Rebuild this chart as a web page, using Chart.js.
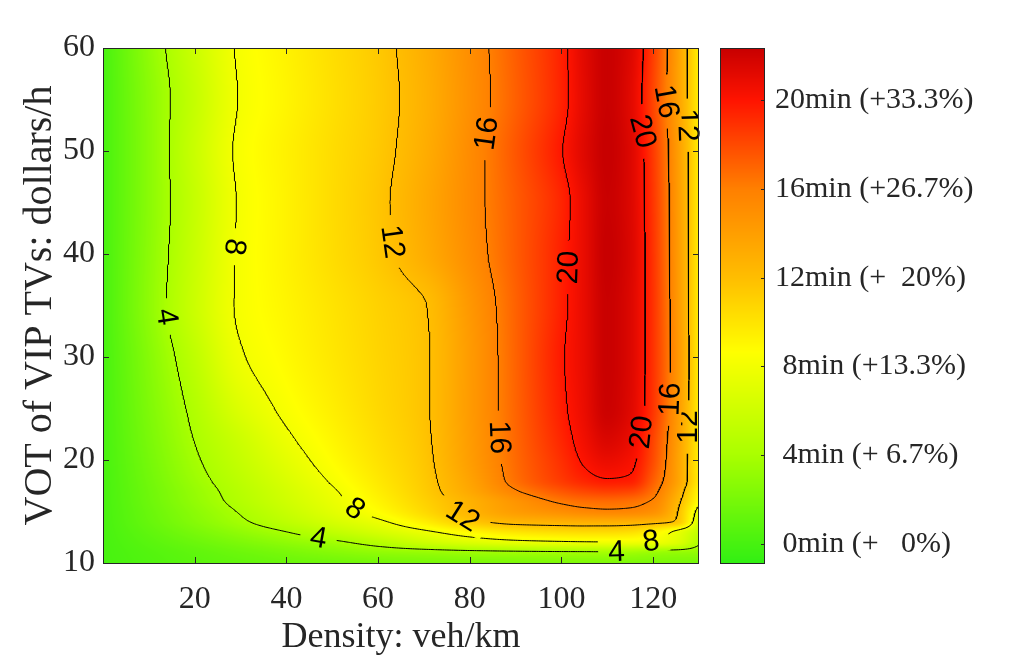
<!DOCTYPE html>
<html>
<head>
<meta charset="utf-8">
<title>VIP delay map</title>
<script src="https://cdn.jsdelivr.net/npm/chart.js@4.4.0/dist/chart.umd.min.js"></script>
<style>
  html, body { margin: 0; padding: 0; background: #fff; }
  #wrap { width: 1035px; height: 668px; }
</style>
</head>
<body>
<div id="wrap"><canvas id="delayChart" width="1035" height="668"></canvas></div>
<script>
'use strict';

/* ── Data ── */
const densityCols = [0, 10, 20, 30, 40, 50, 60, 70, 80, 90, 100, 105, 110, 115, 120, 125, 130];
const votRows = [10, 11, 12, 13, 14, 15, 16, 17, 18, 20, 22, 25, 30, 35, 40, 45, 50, 55, 60];

// extra travel time (min), one row per VOT value, columns follow densityCols
const delayRows = [
  [0, 0.40, 0.80, 1.10, 1.40, 1.60, 1.80, 1.95, 2.05, 2.10, 2.15, 2.15, 2.15, 2.10, 2.05, 2.00, 1.90],
  [0, 0.50, 1.00, 1.50, 2.00, 2.50, 2.95, 3.20, 3.45, 3.60, 3.70, 3.72, 3.75, 3.60, 3.30, 3.10, 3.00],
  [0, 0.73, 1.46, 2.19, 2.91, 3.64, 4.70, 5.90, 6.80, 7.40, 7.70, 7.80, 7.85, 7.85, 7.70, 6.90, 4.30],
  [0, 0.99, 1.99, 2.98, 3.97, 5.18, 6.40, 7.62, 9.00, 10.0, 10.4, 10.5, 10.5, 10.3, 9.30, 7.60, 5.30],
  [0, 1.25, 2.50, 3.74, 5.04, 6.35, 7.66, 9.49, 11.5, 12.6, 12.9, 13.0, 13.0, 12.9, 12.6, 11.8, 6.30],
  [0, 1.37, 2.75, 4.13, 5.60, 7.07, 8.69, 10.57, 12.6, 14.2, 15.1, 15.5, 15.7, 15.6, 15.0, 12.3, 7.20],
  [0, 1.51, 3.03, 4.52, 6.01, 7.49, 9.18, 10.97, 12.81, 14.7, 16.3, 16.7, 16.8, 16.6, 15.8, 12.78, 8.50],
  [0, 1.58, 3.18, 4.73, 6.27, 7.81, 9.52, 11.25, 13.41, 15.88, 17.6, 18.2, 18.5, 18.3, 16.6, 13.47, 9.00],
  [0, 1.69, 3.41, 5.00, 6.59, 8.18, 9.78, 11.39, 13.72, 16.6, 18.6, 19.4, 19.85, 19.7, 17.27, 14.08, 9.60],
  [0, 1.87, 3.76, 5.47, 7.18, 8.73, 10.15, 11.56, 14.09, 16.82, 19.04, 20.2, 20.9, 20.4, 17.97, 14.18, 9.50],
  [0, 2.03, 4.05, 5.88, 7.71, 9.09, 10.38, 11.68, 14.19, 16.93, 19.37, 20.6, 21.6, 20.9, 18.23, 14.40, 9.50],
  [0, 2.23, 4.43, 6.80, 8.35, 9.49, 10.64, 11.78, 14.28, 17.03, 19.68, 20.9, 22.2, 21.4, 18.80, 14.74, 9.60],
  [0, 2.52, 5.12, 7.84, 8.90, 9.87, 10.83, 11.79, 14.26, 17.10, 19.84, 21.0, 22.3, 21.5, 18.90, 14.97, 9.60],
  [0, 2.87, 5.79, 8.23, 9.15, 10.07, 10.99, 11.91, 14.48, 17.13, 19.63, 21.0, 22.3, 21.5, 18.90, 14.81, 9.60],
  [0, 2.76, 5.63, 8.22, 9.31, 10.40, 11.49, 13.09, 15.15, 17.33, 19.59, 21.0, 22.4, 21.6, 18.85, 14.74, 9.60],
  [0, 2.67, 5.47, 8.16, 9.31, 10.46, 11.61, 13.32, 15.33, 17.36, 19.41, 21.0, 22.3, 21.5, 18.75, 14.67, 9.60],
  [0, 2.67, 5.68, 8.32, 9.37, 10.42, 11.46, 13.05, 15.25, 17.56, 19.93, 21.4, 22.4, 21.5, 18.60, 14.54, 9.60],
  [0, 2.70, 5.45, 8.10, 9.18, 10.26, 11.35, 12.86, 15.00, 17.21, 19.50, 21.2, 22.3, 21.3, 18.20, 14.27, 9.50],
  [0, 2.94, 5.80, 8.24, 9.30, 10.37, 11.44, 13.01, 15.10, 17.30, 19.57, 21.3, 22.3, 21.5, 18.50, 14.34, 9.40],
];

const contourLevels = [4, 8, 12, 16, 20];
const xTickVals = [20, 40, 60, 80, 100, 120];
const yTickVals = [10, 20, 30, 40, 50, 60];
const cbTickVals = [0, 4, 8, 12, 16, 20];
const cbTickLabels = [' 0min (+   0%)', ' 4min (+ 6.7%)', ' 8min (+13.3%)', '12min (+  20%)', '16min (+26.7%)', '20min (+33.3%)'];
const cbRange = [-0.86, 22.36];

// contour labels: level, density, VOT, text angle in degrees
const labelSpots = [
  [4, 13.6, 33.9, 81], [4, 47.0, 12.3, 10], [4, 112.1, 11.0, -2],
  [8, 28.3, 40.7, 97], [8, 55.0, 15.3, 35], [8, 119.7, 12.3, -8],
  [12, 63.1, 41.2, 82], [12, 78.5, 14.4, 32], [12, 127.1, 52.5, 88], [12, 127.1, 23.2, -90],
  [16, 83.8, 51.7, -82], [16, 84.6, 22.2, 88], [16, 122.1, 54.8, 80], [16, 123.9, 25.9, -88],
  [20, 102.3, 38.7, -88], [20, 117.1, 51.9, 75], [20, 118.2, 22.6, -84],
];

/* ── Colour map (green → yellow → red → dark red) ── */
const cmapVals = [-0.86, 4, 8.66, 12, 16, 20, 22.36];
const cmapRGB = [[50, 240, 20], [170, 255, 0], [255, 255, 0], [255, 190, 0], [255, 128, 0], [255, 20, 0], [200, 0, 0]];

const ink = '#262626';
const serif = '"Liberation Serif", "Times New Roman", serif';
const sans = '"Liberation Sans", Arial, sans-serif';

function colorFor(v) {
  if (v <= cmapVals[0]) return cmapRGB[0];
  for (let k = 1; k < cmapVals.length; k++) {
    if (v <= cmapVals[k]) {
      const t = (v - cmapVals[k - 1]) / (cmapVals[k] - cmapVals[k - 1]);
      const a = cmapRGB[k - 1], b = cmapRGB[k];
      return [a[0] + (b[0] - a[0]) * t, a[1] + (b[1] - a[1]) * t, a[2] + (b[2] - a[2]) * t];
    }
  }
  return cmapRGB[cmapRGB.length - 1];
}

/* ── Shape-preserving cubic through the table ── */
function pchipSlopes(xs, ys) {
  const n = xs.length, h = [], d = [], m = new Array(n);
  for (let i = 0; i < n - 1; i++) { h[i] = xs[i + 1] - xs[i]; d[i] = (ys[i + 1] - ys[i]) / h[i]; }
  m[0] = d[0]; m[n - 1] = d[n - 2];
  for (let i = 1; i < n - 1; i++) {
    if (d[i - 1] * d[i] <= 0) m[i] = 0;
    else {
      const w1 = 2 * h[i] + h[i - 1], w2 = h[i] + 2 * h[i - 1];
      m[i] = (w1 + w2) / (w1 / d[i - 1] + w2 / d[i]);
    }
  }
  return m;
}
function pchipEval(xs, ys, m, x) {
  let i = 0;
  while (i < xs.length - 2 && x > xs[i + 1]) i++;
  const h = xs[i + 1] - xs[i], t = (x - xs[i]) / h, t2 = t * t, t3 = t2 * t;
  return (2 * t3 - 3 * t2 + 1) * ys[i] + (t3 - 2 * t2 + t) * h * m[i] +
         (-2 * t3 + 3 * t2) * ys[i + 1] + (t3 - t2) * h * m[i + 1];
}

/* ── Fine surface for shading and contours ── */
const X0 = densityCols[0], X1 = densityCols[densityCols.length - 1];
const Y0 = votRows[0], Y1 = votRows[votRows.length - 1];
const DX = 0.5, DY = 0.1;
const FX = [], FY = [];
for (let x = X0; x <= X1 + 1e-9; x += DX) FX.push(x);
for (let k = 0; Y0 + k * DY <= Y1 + 1e-9; k++) FY.push(Y0 + k * DY);

const field = (function buildField() {
  const rowsFine = delayRows.map(r => {
    const m = pchipSlopes(densityCols, r);
    return FX.map(x => pchipEval(densityCols, r, m, x));
  });
  const f = FY.map(() => new Float32Array(FX.length));
  for (let i = 0; i < FX.length; i++) {
    const col = rowsFine.map(r => r[i]);
    const m = pchipSlopes(votRows, col);
    for (let j = 0; j < FY.length; j++) f[j][i] = pchipEval(votRows, col, m, FY[j]);
  }
  return f;
})();

function sampleField(x, y) {
  let fi = (x - X0) / DX, fj = (y - Y0) / DY;
  fi = Math.max(0, Math.min(FX.length - 1.001, fi));
  fj = Math.max(0, Math.min(FY.length - 1.001, fj));
  const i = Math.floor(fi), j = Math.floor(fj), s = fi - i, t = fj - j;
  const r0 = field[j], r1 = field[j + 1];
  return (r0[i] * (1 - s) + r0[i + 1] * s) * (1 - t) + (r1[i] * (1 - s) + r1[i + 1] * s) * t;
}

/* ── Marching squares ── */
function traceLevel(L) {
  const nx = FX.length, ny = FY.length, vBase = nx * ny;
  const pts = new Map();
  const segs = [];
  const hPt = (i, j) => {
    const k = j * nx + i;
    if (!pts.has(k)) {
      const a = field[j][i], b = field[j][i + 1], t = (L - a) / (b - a);
      pts.set(k, { x: FX[i] + (FX[i + 1] - FX[i]) * t, y: FY[j] });
    }
    return k;
  };
  const vPt = (i, j) => {
    const k = vBase + j * nx + i;
    if (!pts.has(k)) {
      const a = field[j][i], b = field[j + 1][i], t = (L - a) / (b - a);
      pts.set(k, { x: FX[i], y: FY[j] + (FY[j + 1] - FY[j]) * t });
    }
    return k;
  };
  for (let j = 0; j < ny - 1; j++) {
    for (let i = 0; i < nx - 1; i++) {
      const a = field[j][i] >= L, b = field[j][i + 1] >= L, c = field[j + 1][i + 1] >= L, d = field[j + 1][i] >= L;
      const code = (a ? 1 : 0) | (b ? 2 : 0) | (c ? 4 : 0) | (d ? 8 : 0);
      if (code === 0 || code === 15) continue;
      const E = [];
      if (a !== b) E.push(hPt(i, j));
      if (b !== c) E.push(vPt(i + 1, j));
      if (c !== d) E.push(hPt(i, j + 1));
      if (d !== a) E.push(vPt(i, j));
      if (E.length === 2) segs.push(E);
      else if (E.length === 4) {
        const mid = (field[j][i] + field[j][i + 1] + field[j + 1][i + 1] + field[j + 1][i]) / 4 >= L;
        if ((code === 5) === mid) segs.push([E[0], E[1]], [E[2], E[3]]);
        else segs.push([E[3], E[0]], [E[1], E[2]]);
      }
    }
  }
  // chain segments into polylines
  const adj = new Map();
  const addAdj = (k, s) => { const l = adj.get(k); if (l) l.push(s); else adj.set(k, [s]); };
  segs.forEach((s, n) => { addAdj(s[0], n); addAdj(s[1], n); });
  const used = new Uint8Array(segs.length);
  const lines = [];
  const walk = (start) => {
    const out = [];
    let end = start;
    for (;;) {
      const next = (adj.get(end) || []).find(n => !used[n]);
      if (next === undefined) break;
      used[next] = 1;
      const [p, q] = segs[next];
      end = p === end ? q : p;
      out.push(end);
    }
    return out;
  };
  for (let s = 0; s < segs.length; s++) {
    if (used[s]) continue;
    used[s] = 1;
    const fwd = walk(segs[s][1]);
    const back = walk(segs[s][0]);
    const keys = back.reverse().concat([segs[s][0], segs[s][1]], fwd);
    lines.push(keys.map(k => pts.get(k)));
  }
  return lines;
}

const contourLines = {};
contourLevels.forEach(L => { contourLines[L] = traceLevel(L); });

function lineData(L) {
  const out = [];
  contourLines[L].forEach(line => { out.push(...line, { x: null, y: null }); });
  return out;
}

/* ── Plugin: shading, label knock-outs, colour bar, frame ── */
let heatCache = null;
function heatCanvas(chart) {
  const a = chart.chartArea;
  const w = Math.round(a.right - a.left), h = Math.round(a.bottom - a.top);
  if (heatCache && heatCache.width === w && heatCache.height === h) return heatCache;
  const xs = chart.scales.x, ys = chart.scales.y;
  const cv = document.createElement('canvas');
  cv.width = w; cv.height = h;
  const g = cv.getContext('2d');
  const img = g.createImageData(w, h);
  const vx = [];
  for (let px = 0; px < w; px++) vx.push(xs.getValueForPixel(a.left + px + 0.5));
  for (let py = 0; py < h; py++) {
    const vy = ys.getValueForPixel(a.top + py + 0.5);
    for (let px = 0; px < w; px++) {
      const c = colorFor(sampleField(vx[px], vy));
      const o = (py * w + px) * 4;
      img.data[o] = c[0]; img.data[o + 1] = c[1]; img.data[o + 2] = c[2]; img.data[o + 3] = 255;
    }
  }
  g.putImageData(img, 0, 0);
  heatCache = cv;
  return cv;
}

const heatPlugin = {
  id: 'heat',
  beforeDatasetsDraw(chart) {
    const a = chart.chartArea;
    chart.ctx.drawImage(heatCanvas(chart), Math.round(a.left), Math.round(a.top));
  },
  afterDatasetsDraw(chart) {
    const ctx = chart.ctx, a = chart.chartArea;
    const xs = chart.scales.x, ys = chart.scales.y;
    const heat = heatCanvas(chart);
    ctx.font = '30px ' + sans;
    labelSpots.forEach(([L, sx, sy, ang]) => {
      const tx = xs.getPixelForValue(sx), ty = ys.getPixelForValue(sy);
      let bx = tx, by = ty, bd = Infinity;
      contourLines[L].forEach(line => line.forEach(p => {
        const px = xs.getPixelForValue(p.x), py = ys.getPixelForValue(p.y);
        const d = (px - tx) ** 2 + (py - ty) ** 2;
        if (d < bd) { bd = d; bx = px; by = py; }
      }));
      const text = String(L);
      const w = ctx.measureText(text).width;
      const rad = ang * Math.PI / 180;
      // clear the contour under the label
      ctx.save();
      ctx.translate(bx, by);
      ctx.rotate(rad);
      ctx.beginPath();
      ctx.rect(-w / 2 - 10, -12, w + 20, 24);
      ctx.setTransform(1, 0, 0, 1, 0, 0);
      ctx.clip();
      ctx.drawImage(heat, Math.round(a.left), Math.round(a.top));
      ctx.restore();
      // label text
      ctx.save();
      ctx.translate(bx, by);
      ctx.rotate(rad);
      ctx.fillStyle = '#000';
      ctx.textAlign = 'center';
      ctx.textBaseline = 'middle';
      ctx.fillText(text, 0, 1);
      ctx.restore();
    });
  },
  afterDraw(chart) {
    const ctx = chart.ctx, a = chart.chartArea;
    const xs = chart.scales.x, ys = chart.scales.y, cb = chart.scales.cb;
    const L = Math.round(a.left), R = Math.round(a.right), T = Math.round(a.top), B = Math.round(a.bottom);

    // colour bar
    const cbL = R + 21, cbR = R + 66;
    const top = Math.round(cb.getPixelForValue(cbRange[1])), bot = Math.round(cb.getPixelForValue(cbRange[0]));
    for (let py = top; py < bot; py++) {
      const c = colorFor(cb.getValueForPixel(py + 0.5));
      ctx.fillStyle = `rgb(${c[0] | 0},${c[1] | 0},${c[2] | 0})`;
      ctx.fillRect(cbL, py, cbR - cbL, 1);
    }

    ctx.save();
    ctx.strokeStyle = ink;
    ctx.lineWidth = 1;
    ctx.strokeRect(L + 0.5, T + 0.5, R - L - 1, B - T);
    ctx.strokeRect(cbL + 0.5, top + 0.5, cbR - cbL - 1, bot - top);

    ctx.beginPath();
    xTickVals.forEach(v => {
      const px = Math.round(xs.getPixelForValue(v)) + 0.5;
      ctx.moveTo(px, B); ctx.lineTo(px, B - 6);
      ctx.moveTo(px, T); ctx.lineTo(px, T + 6);
    });
    yTickVals.forEach(v => {
      const py = Math.round(ys.getPixelForValue(v)) + 0.5;
      ctx.moveTo(L, py); ctx.lineTo(L + 6, py);
      ctx.moveTo(R, py); ctx.lineTo(R - 6, py);
    });
    cbTickVals.forEach(v => {
      const py = Math.round(cb.getPixelForValue(v)) + 0.5;
      ctx.moveTo(cbR, py); ctx.lineTo(cbR - 4, py);
    });
    ctx.stroke();
    ctx.restore();
  }
};

// vertical axes: no extra room above/below for their labels
const fixVertical = width => s => { s.width = width; s.paddingTop = 0; s.paddingBottom = 0; };

/* ── Chart ── */
new Chart(document.getElementById('delayChart'), {
  type: 'scatter',
  data: {
    datasets: contourLevels.map(L => ({
      label: L + ' min',
      data: lineData(L),
      showLine: true,
      borderColor: '#000',
      borderWidth: 1,
      pointRadius: 0,
      pointHoverRadius: 0,
      spanGaps: false,
    }))
  },
  options: {
    responsive: false,
    animation: false,
    devicePixelRatio: 1,
    events: [],
    layout: { padding: { top: 48, left: 0, right: 0, bottom: 0 } },
    plugins: { legend: { display: false }, tooltip: { enabled: false } },
    scales: {
      x: {
        type: 'linear', position: 'bottom', min: X0, max: X1,
        afterBuildTicks: s => { s.ticks = xTickVals.map(v => ({ value: v })); },
        afterFit: s => { s.height = 105; s.paddingLeft = 0; s.paddingRight = 0; },
        grid: { display: false, drawTicks: false },
        border: { display: false },
        ticks: { color: ink, font: { family: serif, size: 32 }, padding: 17, maxRotation: 0, autoSkip: false },
        title: { display: true, text: 'Density: veh/km', color: ink, font: { family: serif, size: 36 }, padding: { top: 0, bottom: 9 } }
      },
      y: {
        type: 'linear', position: 'left', min: Y0, max: Y1,
        afterBuildTicks: s => { s.ticks = yTickVals.map(v => ({ value: v })); },
        afterFit: fixVertical(103),
        grid: { display: false, drawTicks: false },
        border: { display: false },
        ticks: { color: ink, font: { family: serif, size: 32 }, padding: 8, autoSkip: false },
        title: { display: true, text: 'VOT of VIP TVs: dollars/h', color: ink, font: { family: serif, size: 40 }, padding: { top: 16, bottom: 0 } }
      },
      cb: {
        type: 'linear', position: 'right', min: cbRange[0], max: cbRange[1],
        afterBuildTicks: s => { s.ticks = cbTickVals.map(v => ({ value: v })); },
        afterFit: fixVertical(336),
        grid: { display: false, drawTicks: false },
        border: { display: false },
        ticks: {
          color: ink, font: { family: serif, size: 30 }, padding: 76, autoSkip: false,
          callback: v => cbTickLabels[cbTickVals.indexOf(v)]
        }
      }
    }
  },
  plugins: [heatPlugin]
});
</script>
</body>
</html>
